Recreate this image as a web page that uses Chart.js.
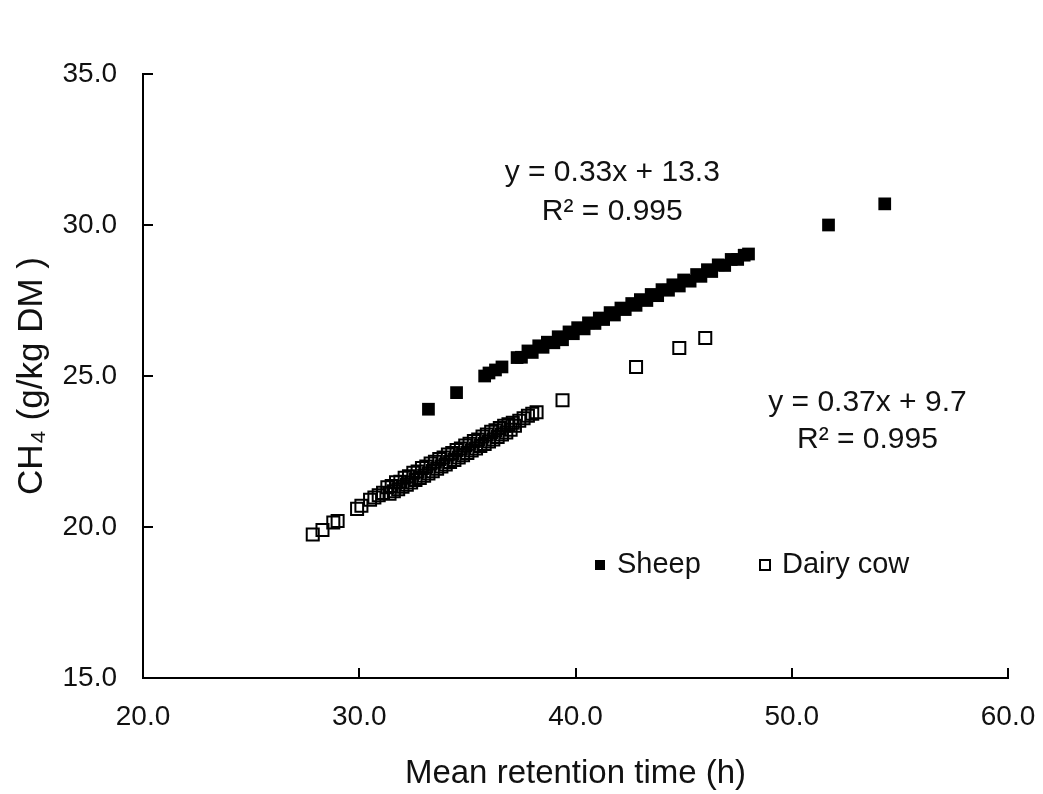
<!DOCTYPE html>
<html>
<head>
<meta charset="utf-8">
<script src="https://cdn.jsdelivr.net/npm/chart.js@4/dist/chart.umd.min.js"></script>
<style>
  html, body { margin: 0; padding: 0; background: #fff; }
  #wrap { width: 1043px; height: 794px; position: relative; }
</style>
</head>
<body>
<div id="wrap"><canvas id="methaneChart"></canvas></div>
<script>
// values
const sheepX = [33.2, 34.5, 35.8, 36.0, 36.3, 36.6,
  37.3, 37.5, 37.8, 38.0, 38.3, 38.5, 38.7, 39.0, 39.2, 39.4, 39.7, 39.9, 40.1, 40.4, 40.6, 40.9,
  41.1, 41.3, 41.6, 41.8, 42.1, 42.3, 42.6, 42.8, 43.0, 43.3, 43.5, 43.8, 44.0, 44.3, 44.5, 44.8,
  45.0, 45.3, 45.6, 45.8, 46.1, 46.3, 46.6, 46.9, 47.2, 47.5, 47.8, 48.0, 51.7, 54.3];
const sheepY = [23.9, 24.45, 25.0, 25.1, 25.2, 25.3,
  25.61, 25.62, 25.83, 25.78, 26.0, 25.95, 26.12, 26.1, 26.3, 26.2, 26.46, 26.4, 26.6, 26.56, 26.76, 26.74,
  26.92, 26.87, 27.1, 27.02, 27.25, 27.2, 27.4, 27.34, 27.53, 27.5, 27.7, 27.66, 27.86, 27.84, 28.02, 27.98,
  28.18, 28.14, 28.36, 28.3, 28.52, 28.46, 28.68, 28.66, 28.86, 28.86, 29.0, 29.04, 30.0, 30.7];

const cowX = [27.85, 28.3, 28.8, 29.0, 29.9, 30.1,
  30.5, 30.7, 30.9, 31.1, 31.3, 31.4, 31.5, 31.6, 31.7, 31.8, 31.9, 32.0, 32.1, 32.2, 32.3, 32.4,
  32.5, 32.6, 32.7, 32.8, 32.9, 33.0, 33.1, 33.2, 33.3, 33.4, 33.5, 33.6, 33.7, 33.8, 33.9, 34.0,
  34.1, 34.2, 34.3, 34.4, 34.5, 34.6, 34.7, 34.8, 34.9, 35.0, 35.1, 35.2, 35.3, 35.4, 35.5, 35.6,
  35.7, 35.8, 35.9, 36.0, 36.1, 36.2, 36.3, 36.4, 36.5, 36.6, 36.7, 36.8, 36.9, 37.0, 37.1, 37.2,
  37.4, 37.6, 37.8, 38.0, 38.2, 39.4, 42.8, 44.8, 46.0];
const cowY = [19.75, 19.9, 20.15, 20.2, 20.6, 20.7,
  20.9, 20.98, 21.05, 21.13, 21.32, 21.1, 21.36, 21.18, 21.48, 21.25, 21.5, 21.33, 21.63, 21.4, 21.68, 21.47,
  21.8, 21.56, 21.84, 21.62, 21.95, 21.7, 22.0, 21.77, 22.1, 21.85, 22.16, 21.93, 22.25, 22.0, 22.3, 22.07,
  22.4, 22.15, 22.45, 22.22, 22.55, 22.3, 22.6, 22.38, 22.7, 22.45, 22.76, 22.53, 22.85, 22.6, 22.9, 22.68,
  23.0, 22.75, 23.06, 22.83, 23.15, 22.9, 23.2, 22.98, 23.28, 23.06, 23.35, 23.13, 23.4, 23.22, 23.45, 23.35,
  23.52, 23.6, 23.68, 23.75, 23.8, 24.2, 25.3, 25.93, 26.26];

// regression labels (data coordinates of the text centres)
const fitLabels = [
  { x: 41.7, y: 31.72, text: 'y = 0.33x + 13.3' },
  { x: 41.7, y: 30.43, text: 'R² = 0.995' },
  { x: 53.5, y: 24.1, text: 'y = 0.37x + 9.7' },
  { x: 53.5, y: 22.88, text: 'R² = 0.995' }
];

const FONT = "'Liberation Sans', Arial, sans-serif";
const INK = '#111';

const toPoints = (xs, ys) => xs.map((x, i) => ({ x: x, y: ys[i] }));

// inward tick marks, like the original spreadsheet chart
const innerTicks = {
  id: 'innerTicks',
  afterDraw(chart) {
    const ctx = chart.ctx;
    const a = chart.chartArea;
    const xs = chart.scales.x, ys = chart.scales.y;
    ctx.save();
    ctx.strokeStyle = '#000';
    ctx.lineWidth = 2;
    xs.ticks.forEach(t => {
      const px = Math.round(xs.getPixelForValue(t.value));
      ctx.beginPath();
      ctx.moveTo(px, a.bottom);
      ctx.lineTo(px, a.bottom - 10);
      ctx.stroke();
    });
    ys.ticks.forEach(t => {
      const py = Math.round(ys.getPixelForValue(t.value));
      ctx.beginPath();
      ctx.moveTo(a.left, py);
      ctx.lineTo(a.left + 10, py);
      ctx.stroke();
    });
    ctx.restore();
  }
};

// equations and the in-plot legend
const notes = {
  id: 'notes',
  afterDraw(chart) {
    const ctx = chart.ctx;
    const xs = chart.scales.x, ys = chart.scales.y;
    ctx.save();
    ctx.fillStyle = INK;
    ctx.font = '30px ' + FONT;
    ctx.textAlign = 'center';
    ctx.textBaseline = 'middle';
    fitLabels.forEach(l => {
      ctx.fillText(l.text, xs.getPixelForValue(l.x), ys.getPixelForValue(l.y));
    });

    // legend
    const items = [
      { x: 600, label: chart.data.datasets[0].label, filled: true },
      { x: 765, label: chart.data.datasets[1].label, filled: false }
    ];
    const ly = 565;
    ctx.font = '29px ' + FONT;
    ctx.textAlign = 'left';
    items.forEach(it => {
      if (it.filled) {
        ctx.fillStyle = '#000';
        ctx.fillRect(it.x - 5, ly - 5, 10, 10);
      } else {
        ctx.strokeStyle = '#000';
        ctx.lineWidth = 2;
        ctx.strokeRect(it.x - 5, ly - 5, 10, 10);
      }
      ctx.fillStyle = INK;
      ctx.fillText(it.label, it.x + 17, ly);
    });
    ctx.restore();
  }
};

const ctx = document.getElementById('methaneChart').getContext('2d');
new Chart(ctx, {
  type: 'scatter',
  data: {
    datasets: [{
      label: 'Sheep',
      data: toPoints(sheepX, sheepY),
      pointStyle: 'rect',
      pointRadius: 9,
      pointHoverRadius: 9,
      backgroundColor: '#000',
      borderColor: '#000',
      borderWidth: 0
    }, {
      label: 'Dairy cow',
      data: toPoints(cowX, cowY),
      pointStyle: 'rect',
      pointRadius: 8.5,
      pointHoverRadius: 8.5,
      backgroundColor: 'rgba(255,255,255,0)',  // no fill, so stacked outlines merge
      borderColor: '#000',
      borderWidth: 2
    }]
  },
  options: {
    responsive: true,
    maintainAspectRatio: false,
    animation: false,
    layout: { padding: { left: 0, right: 35, top: 74, bottom: 0 } },
    plugins: {
      legend: { display: false },
      tooltip: { enabled: false }
    },
    scales: {
      x: {
        type: 'linear',
        min: 20,
        max: 60,
        afterFit: s => { s.height = 116; s.paddingRight = 0; s.paddingLeft = 0; },
        border: { display: true, color: '#000', width: 2 },
        grid: { display: true, drawOnChartArea: false, drawTicks: false },
        ticks: {
          stepSize: 10,
          padding: 22,
          color: INK,
          font: { family: FONT, size: 28 },
          callback: v => v.toFixed(1)
        },
        title: {
          display: true,
          text: 'Mean retention time (h)',
          color: INK,
          font: { family: FONT, size: 33 },
          padding: { top: 3, bottom: 0 }
        }
      },
      y: {
        type: 'linear',
        min: 15,
        max: 35,
        afterFit: s => { s.width = 143; },
        border: { display: true, color: '#000', width: 2 },
        grid: { display: true, drawOnChartArea: false, drawTicks: false },
        ticks: {
          stepSize: 5,
          padding: 26,
          color: INK,
          font: { family: FONT, size: 28 },
          callback: v => v.toFixed(1)
        },
        title: {
          display: true,
          text: 'CH₄ (g/kg DM )',
          color: INK,
          font: { family: FONT, size: 35 },
          padding: { top: 11, bottom: 0 }
        }
      }
    }
  },
  plugins: [innerTicks, notes]
});
</script>
</body>
</html>
